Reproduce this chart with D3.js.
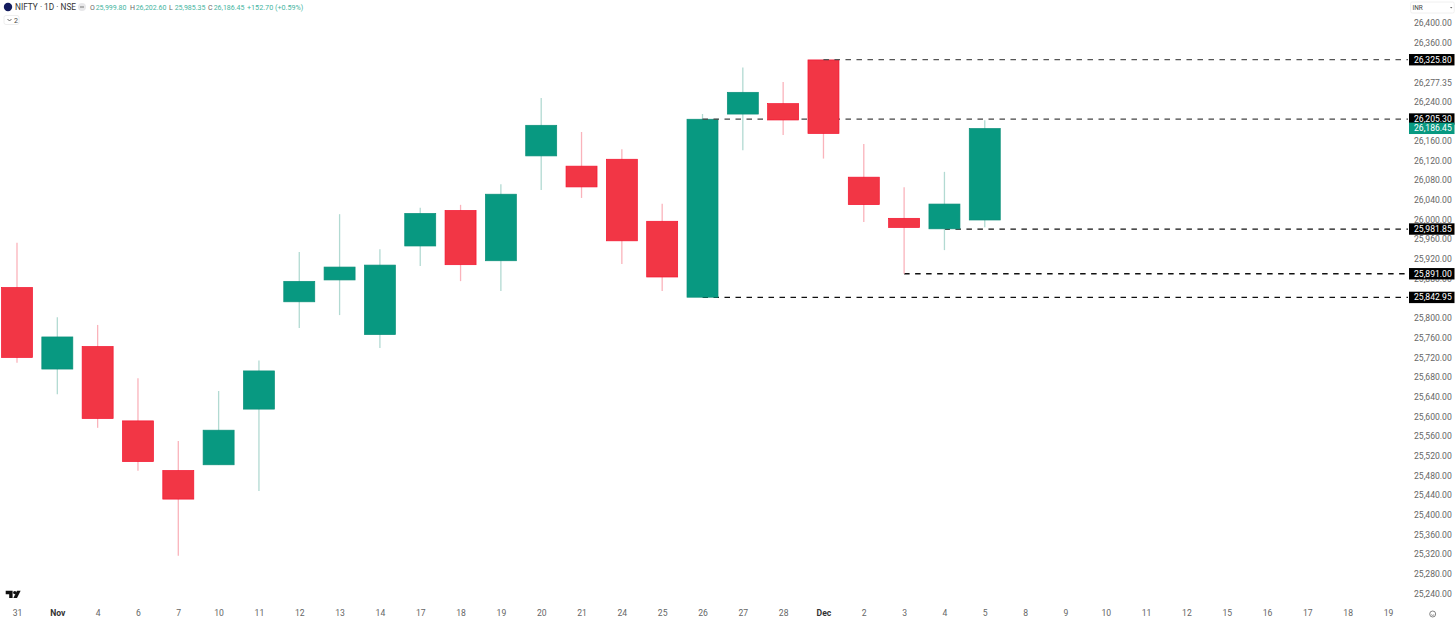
<!DOCTYPE html>
<html>
<head>
  <title>NIFTY 1D</title>
  <script type="text/javascript" src="https://d3js.org/d3.v7.min.js"></script>
  <style>
    html, body { margin: 0; padding: 0; background: #fff; overflow: hidden; }
    text { font-family: Roboto, sans-serif; }
  </style>
</head>
<body>
  <div class="chart"></div>

  <script type="text/javascript">
    var dates = ["31","Nov","4","6","7","10","11","12","13","14","17","18","19","20","21","24","25","26","27","28",
                 "Dec","2","3","4","5","8","9","10","11","12","15","16","17","18","19"];
    var opens = [25863.5,25697,25743.6,25592.5,25491.7,25502.5,25615.6,25833.6,25878,25767,25947,26020,25917,26130,26110,
                 26124,25998,25842.95,26215,26237,26325.8,26087.6,26004,25981.85,25999.8];
    var highs = [25954,25802.5,25787,25678.6,25551,25652.8,25715,25935,26012,25941,26025,26031,26073,26248,26179,
                 26144,26033,26215.5,26310,26280.5,26325.8,26154.6,26066.6,26098,26202.6];
    var lows = [25710,25646,25578,25491,25318,25502.5,25449.7,25781,25807,25740,25907,25876,25856,26061,26045,
                25911,25856,25842.95,26142,26173,26125,25996,25891,25939,25985.35];
    var closes = [25720.5,25763,25596.5,25509,25432.8,25573.6,25694,25876,25905,25909,26014,25909,26053,26193,26067,
                  25957.5,25884,26205.3,26260,26203,26175.5,26031,25984.6,26033,26186.45];
    var priceTicks = [26400,26360,26277.35,26240,26160,26120,26080,26040,26000,25960,25920,25880,25800,25760,25720,25680,
                      25640,25600,25560,25520,25480,25440,25400,25360,25320,25280,25240];
    var levels = [25981.85,25891,25842.95];
    var levelStarts = [23,22,17];
    var lastPrice = 26186.45;

    const width = 1456;
    const height = 621;
    const fmt = d3.format(",.2f");

    const svg = d3.select(".chart").append("svg")
      .attr("width", width)
      .attr("height", height)
      .style("display", "block");

    const x = d3.scaleLinear().domain([0, dates.length - 1]).range([17, 1388]);
    const y = d3.scaleLinear().domain([25240, 26400]).range([594.2, 23.2]);

    const red = "#F23645", green = "#089981";
    const candles = d3.range(opens.length);

    function dashed(g, price, startIndex, color, w) {
      g.append("line")
        .attr("x1", x(startIndex))
        .attr("x2", 1408)
        .attr("y1", y(price))
        .attr("y2", y(price))
        .attr("stroke", color)
        .attr("stroke-width", w)
        .attr("stroke-dasharray", "5.5,5.5");
    }

    function drawCandles(g, idx) {
      g.selectAll("line.wick")
        .data(idx)
        .enter()
        .append("line")
        .attr("class", "wick")
        .attr("x1", d => x(d))
        .attr("x2", d => x(d))
        .attr("y1", d => y(highs[d]))
        .attr("y2", d => y(lows[d]))
        .attr("stroke", d => closes[d] >= opens[d] ? "#b2dad2" : "#fab3bb")
        .attr("stroke-width", 1.3);

      g.selectAll("rect.body")
        .data(idx)
        .enter()
        .append("rect")
        .attr("class", "body")
        .attr("x", d => x(d) - 15.5)
        .attr("width", 31)
        .attr("y", d => y(Math.max(opens[d], closes[d])) + 0.2)
        .attr("height", d => Math.abs(y(opens[d]) - y(closes[d])) - 0.4)
        .attr("fill", d => closes[d] >= opens[d] ? green : red)
        .attr("stroke", d => closes[d] >= opens[d] ? "#0b8f79" : "#f4142f")
        .attr("stroke-width", 0.7);
    }

    // lower levels run under everything
    const under = svg.append("g");
    levels.forEach((p, i) => dashed(under, p, levelStarts[i], "#111", i == 1 ? 1.6 : 1.2));

    drawCandles(svg.append("g"), candles.slice(0, 18));
    // this one sits on the Nov 26 candle but goes behind the next ones
    dashed(svg.append("g"), 26205.3, 17, "#444", 1.2);
    drawCandles(svg.append("g"), candles.slice(18));
    dashed(svg.append("g"), 26325.8, 20, "#555", 1.2);

    // price axis
    const yAxis = svg.append("g")
      .attr("transform", "translate(1412,0)")
      .call(d3.axisRight(y).tickValues(priceTicks).tickSize(0).tickPadding(2).tickFormat(fmt));
    yAxis.select(".domain").remove();
    yAxis.selectAll("text")
      .attr("dy", "0.32em")
      .attr("y", -0.6)
      .style("font-family", "Roboto, sans-serif")
      .style("font-size", "8.6px")
      .style("fill", "#666");

    // price labels
    const tags = [
      { p: 26325.8, c: "#000" }, { p: 26205.3, c: "#000" }, { p: lastPrice, c: green },
      { p: 25981.85, c: "#000" }, { p: 25891, c: "#000" }, { p: 25842.95, c: "#000" }
    ];
    const tag = svg.append("g").selectAll("g").data(tags).enter().append("g");
    tag.append("rect")
      .attr("x", 1409)
      .attr("width", 45.5)
      .attr("y", d => y(d.p) - 5.7)
      .attr("height", 11.4)
      .attr("fill", d => d.c);
    tag.append("text")
      .attr("x", 1414)
      .attr("y", d => y(d.p))
      .attr("dy", "0.34em")
      .attr("font-size", "8.6px")
      .attr("fill", "#fff")
      .text(d => fmt(d.p));

    // date axis
    const xAxis = svg.append("g")
      .attr("transform", "translate(0,610)")
      .call(d3.axisBottom(x).tickValues(d3.range(dates.length)).tickSize(0).tickPadding(0).tickFormat(i => dates[i]));
    xAxis.select(".domain").remove();
    xAxis.selectAll("text")
      .style("font-family", "Roboto, sans-serif")
      .style("font-size", "8.6px")
      .style("fill", i => (dates[i] == "Nov" || dates[i] == "Dec") ? "#333" : "#666")
      .style("font-weight", i => (dates[i] == "Nov" || dates[i] == "Dec") ? 700 : 400);

    // header
    const head = svg.append("g");
    head.append("circle").attr("cx", 8).attr("cy", 7).attr("r", 4.2).attr("fill", "#131c5e");
    head.append("text").attr("x", 15).attr("y", 10).attr("font-size", "8.3px").attr("fill", "#333")
      .text("NIFTY · 1D · NSE");
    head.append("circle").attr("cx", 82).attr("cy", 7).attr("r", 4).attr("fill", "#e8e8ea");
    head.append("line").attr("x1", 80).attr("x2", 84).attr("y1", 7).attr("y2", 7).attr("stroke", "#777").attr("stroke-width", 1);

    var ohlcNames = ["O", "H", "L", "C"];
    var ohlcValues = ["25,999.80", "26,202.60", "25,985.35", "26,186.45"];
    var ohlcStarts = [90, 130, 169, 208];
    ohlcNames.forEach((n, i) => {
      head.append("text").attr("x", ohlcStarts[i]).attr("y", 9.5).attr("font-size", "7px").attr("fill", "#666").text(n);
      head.append("text").attr("x", ohlcStarts[i] + 5.7).attr("y", 9.5).attr("font-size", "7px").attr("fill", "#45b5a1").text(ohlcValues[i]);
    });
    head.append("text").attr("x", 247).attr("y", 9.5).attr("font-size", "7.2px").attr("fill", "#45b5a1").text("+152.70 (+0.59%)");

    head.append("rect").attr("x", 4).attr("y", 15.5).attr("width", 15).attr("height", 9).attr("rx", 2)
      .attr("fill", "#fff").attr("stroke", "#eee");
    head.append("path").attr("d", "M7.5 19 L9.5 21 L11.5 19").attr("fill", "none").attr("stroke", "#444").attr("stroke-width", 0.8);
    head.append("text").attr("x", 14).attr("y", 22.6).attr("font-size", "7px").attr("fill", "#444").text("2");

    // currency box
    head.append("rect").attr("x", 1410.7).attr("y", 2).attr("width", 43.5).attr("height", 11).attr("rx", 1.5)
      .attr("fill", "#fff").attr("stroke", "#f0f0f0");
    head.append("text").attr("x", 1412.5).attr("y", 9.8).attr("font-size", "6.4px").attr("fill", "#444").text("INR");
    head.append("path").attr("d", "M1450 7 L1452.4 7 L1451.2 8.6 Z").attr("fill", "#666");

    // logo and settings mark
    head.append("path").attr("d", "M5.7 590.8 H12.6 V598 H9.2 V594.2 H5.7 Z").attr("fill", "#111");
    head.append("circle").attr("cx", 14.8).attr("cy", 592.6).attr("r", 1.7).attr("fill", "#111");
    head.append("path").attr("d", "M17 590.8 H20.6 L17 598 H13.4 Z").attr("fill", "#111");
    head.append("circle").attr("cx", 1432.7).attr("cy", 614).attr("r", 3).attr("fill", "none").attr("stroke", "#666").attr("stroke-width", 0.8);
    head.append("path").attr("d", "M1431.2 614.6 Q1432.7 616.4 1434.2 614.6").attr("fill", "none").attr("stroke", "#666").attr("stroke-width", 0.7);
  </script>
</body>
</html>
